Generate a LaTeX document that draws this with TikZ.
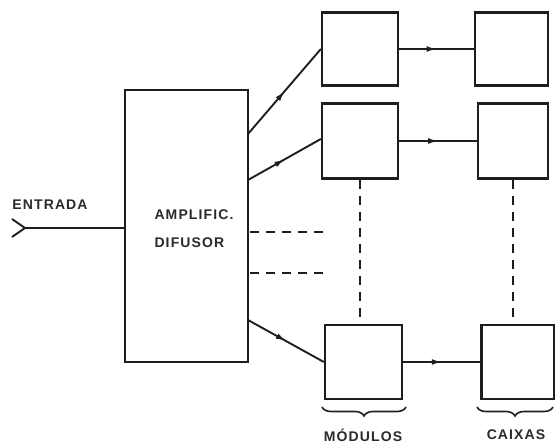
\documentclass[tikz,border=0pt]{standalone}
\usepackage{fontspec}
\setmainfont{Liberation Sans}
\newfontfamily\rotulofonte[LetterSpace=8]{Liberation Sans}
\usetikzlibrary{arrows.meta,decorations.pathreplacing,decorations.markings}
\definecolor{DifusorTraco}{HTML}{1E1E1E}
\definecolor{DifusorTexto}{HTML}{2A2A2A}

\begin{document}
\begin{tikzpicture}[x=1pt,y=-1pt,
    bloco/.style={draw=DifusorTraco,line width=2.3pt,minimum width=76pt,minimum height=73pt,inner sep=0pt},
    fio/.style={draw=DifusorTraco,line width=1.9pt},
    seta/.style={fio,decoration={markings,mark=at position 0.5 with {\arrow{Latex[length=10pt,width=6pt]}}},postaction={decorate}},
    tracejado/.style={draw=DifusorTraco,line width=1.8pt,dash pattern=on 9pt off 7pt},
    chave/.style={draw=DifusorTraco,line width=1.6pt,decorate,decoration={brace,mirror,amplitude=9pt}},
    rotulo/.style={text=DifusorTexto,font=\rotulofonte\fontsize{14}{16}\selectfont\bfseries}]
  \useasboundingbox (0,0) rectangle (555,443);
  % amplificador
  \node[bloco,minimum width=123pt,minimum height=272pt] (amp) at (186.5,226) {};
  \node[rotulo,align=left] (txtamp) at (194,229) {AMPLIFIC.\\[12pt]DIFUSOR};
  % modulos e caixas
  \node[bloco] (m1) at (360,49) {};
  \node[bloco,minimum height=75pt] (m2) at (360,141) {};
  \node[bloco,minimum width=77pt,minimum height=74pt] (m3) at (363.5,362) {};
  \node[bloco,minimum width=73pt] (c1) at (511.5,49) {};
  \node[bloco,minimum width=70pt,minimum height=75pt] (c2) at (513,141) {};
  \node[bloco,minimum width=73pt,minimum height=74pt] (c3) at (518,362) {};
  % entrada
  \coordinate (entrada) at (25,228);
  \node[rotulo] (txtentrada) at (50,205) {ENTRADA};
  \draw[fio] (12,219) -- (entrada) -- (12,237);
  \draw[fio] (entrada) -- (entrada -| amp.west);
  % saidas
  \coordinate (s1) at (248,134);
  \coordinate (s2) at (248,180);
  \coordinate (s3) at (248,320);
  \draw[seta] (s1) -- (m1.west);
  \draw[seta] (s2) -- ([yshift=2pt]m2.west);
  \draw[seta] (s3) -- (m3.west);
  \draw[seta] (m1.east) -- (c1.west);
  \draw[seta] (m2.east) -- (c2.west);
  \draw[seta] (m3.east) -- (c3.west);
  % tracejados
  \coordinate (t1a) at (250,232);
  \coordinate (t1b) at (326,232);
  \coordinate (t2a) at (250,273);
  \coordinate (t2b) at (326,273);
  \draw[tracejado] (t1a) -- (t1b);
  \draw[tracejado] (t2a) -- (t2b);
  \draw[tracejado] (m2.south) -- (m2.south |- m3.north);
  \draw[tracejado] (c2.south) -- (c2.south |- c3.north);
  % chaves
  \coordinate (k1a) at (322,407);
  \coordinate (k1b) at (406,407);
  \coordinate (k2a) at (477,407);
  \coordinate (k2b) at (553,407);
  \draw[chave] (k1a) -- (k1b);
  \draw[chave] (k2a) -- (k2b);
  \node[rotulo] (txtmodulos) at (363,435) {MÓDULOS};
  \node[rotulo] (txtcaixas) at (516,435) {CAIXAS};
\end{tikzpicture}
\end{document}
